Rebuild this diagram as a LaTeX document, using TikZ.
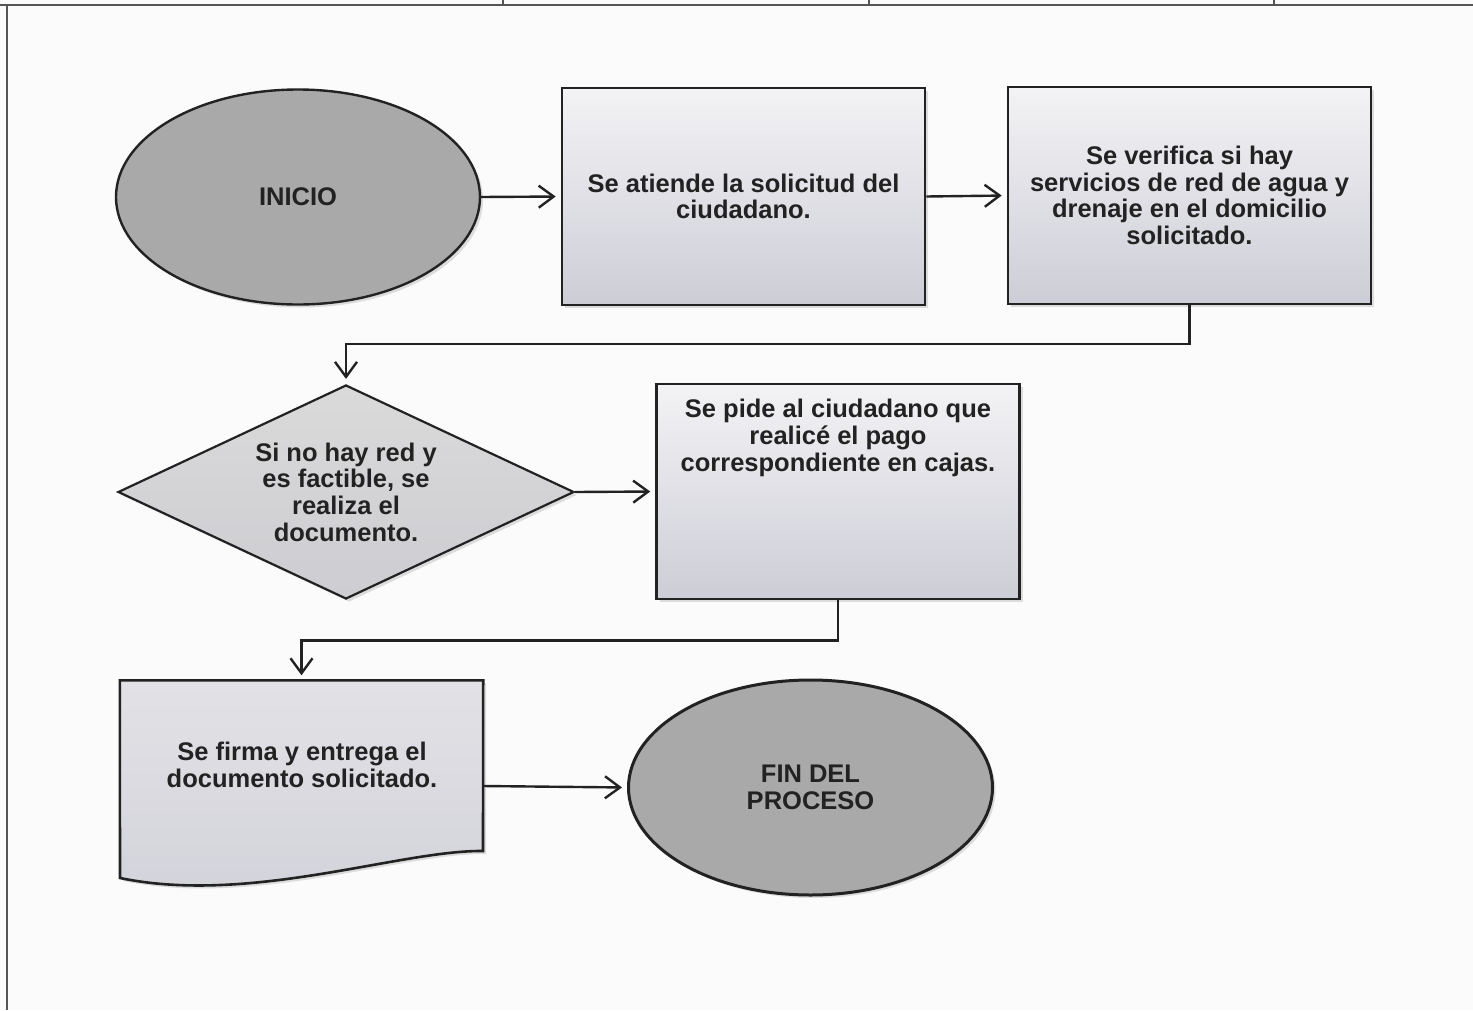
\documentclass[tikz,border=0pt]{standalone}
\usepackage{fontspec}
\setmainfont{Liberation Sans}
\usetikzlibrary{shapes.geometric,arrows.meta,shadows}
\definecolor{ink}{HTML}{222222}
\definecolor{frameline}{HTML}{555555}
\definecolor{boxtop}{HTML}{F3F3F5}
\definecolor{boxbot}{HTML}{CDCDD7}
\definecolor{dectop}{HTML}{DADADA}
\definecolor{decbot}{HTML}{CDCDD2}
\definecolor{doctop}{HTML}{E2E2E6}
\definecolor{docbot}{HTML}{D2D2DA}
\definecolor{termgray}{HTML}{A9A9A9}
\definecolor{paper}{HTML}{FBFBFB}
\begin{document}
\begin{tikzpicture}[x=1pt,y=-1pt,
  txt/.style={font=\bfseries\fontsize{25.5}{26.7}\selectfont, text=ink, align=center},
  shade/.style={drop shadow={shadow xshift=3pt, shadow yshift=-3pt, opacity=0.25}},
  terminal/.style={ellipse, draw=ink, line width=2.4pt, fill=termgray, minimum width=364pt, minimum height=215pt, inner sep=0pt, txt, shade},
  procbox/.style={rectangle, draw=ink, line width=2.6pt, top color=boxtop, bottom color=boxbot, minimum width=363pt, minimum height=217pt, inner sep=0pt, txt, shade},
  decision/.style={diamond, aspect=2.13, draw=ink, line width=2.2pt, top color=dectop, bottom color=decbot, minimum width=456pt, minimum height=214pt, inner sep=0pt, txt, shade},
  docarea/.style={rectangle, minimum width=363pt, minimum height=211pt, inner sep=0pt},
  docline/.style={draw=ink, line width=2.6pt, top color=doctop, bottom color=docbot, line join=miter, shade},
  arr/.style={draw=ink, line width=2.4pt, -{Straight Barb[length=15pt,width=22pt,line width=2.4pt]}, shorten >=5pt},
  rule/.style={draw=frameline, line width=2.4pt}
]
\useasboundingbox (0,0) rectangle (1473,1010);
\fill[paper] (0,0) rectangle (1473,1010);
% frame of the page
\draw[rule] (0,5) -- (1473,5);
\draw[rule] (7,5) -- (7,1010);
\draw[rule] (503,0) -- (503,5);
\draw[rule] (869,0) -- (869,5);
\draw[rule] (1274,0) -- (1274,5);

% nodes
\node[terminal] (inicio) at (298,197) {INICIO};
\node[procbox] (box1) at (743.5,196.5) {Se atiende la solicitud del\\ciudadano.};
\node[procbox] (box2) at (1189.5,195.5) {Se verifica si hay\\servicios de red de agua y\\drenaje en el domicilio\\solicitado.};
\node[decision] (dec) at (346,492) {Si no hay red y\\es factible, se\\realiza el\\documento.};
\node[procbox, minimum height=215pt] (box3) at (838,491.5) {};
\node[txt] (box3t) at (838,438) {Se pide al ciudadano que\\realicé el pago\\correspondiente en cajas.};

% document shape
\node[docarea] (doc) at (301.5,786) {};
\path[docline] (doc.north west) -- (doc.north east) -- (483,851)
  .. controls (400,850) and (250,905) .. (120,878) -- cycle;
\node[txt] (doct) at (302,765) {Se firma y entrega el\\documento solicitado.};

\node[terminal, line width=3pt] (fin) at (810.5,787.5) {FIN DEL\\PROCESO};

% connectors
\draw[arr] (inicio.east) -- (box1.west);
\draw[arr] (box1.east) -- (box2.west);
\draw[arr] (box2.south) |- ([yshift=40pt]dec.north) -- (dec.north);
\draw[arr] (dec.east) -- (box3.west);
\draw[arr] (box3.south) |- ([yshift=40pt]doc.north) -- (doc.north);
\draw[arr] (doc.east) -- (fin.west);
\end{tikzpicture}
\end{document}
